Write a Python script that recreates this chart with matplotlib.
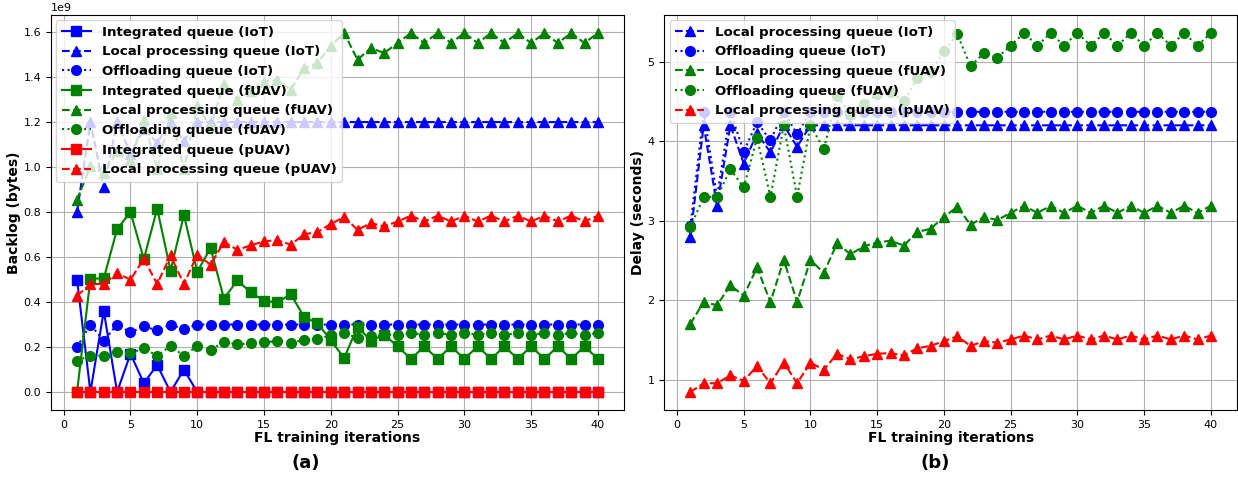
import matplotlib
matplotlib.use("Agg")
import matplotlib.pyplot as plt

iters = list(range(1, 41))

# ---- (a) backlog, in units of 1e9 bytes ----
int_iot = [0.5, 0.0, 0.36, 0.0, 0.17, 0.04, 0.12, 0.0, 0.1] + [0.0] * 31
loc_iot = [0.8, 1.2, 0.91, 1.2, 1.06, 1.17, 1.107, 1.2, 1.115] + [1.2] * 31
off_iot = [0.2, 0.3, 0.228, 0.3, 0.265, 0.292, 0.274, 0.3, 0.28] + [0.3] * 31
int_fuav = [0.0, 0.504, 0.505, 0.724, 0.8, 0.591, 0.815, 0.54, 0.787, 0.535,
            0.64, 0.415, 0.496, 0.443, 0.406, 0.398, 0.435, 0.334, 0.306, 0.23,
            0.151, 0.29, 0.228, 0.255] + [0.203, 0.147] * 8
loc_fuav = [0.855, 1.003, 0.973, 1.07, 1.03, 1.21, 0.99, 1.24, 0.99, 1.27,
            1.18, 1.37, 1.3, 1.34, 1.38, 1.388, 1.344, 1.44, 1.462, 1.54,
            1.596, 1.477, 1.529, 1.507] + [1.551, 1.596] * 8
off_fuav = [0.14, 0.161, 0.161, 0.176, 0.172, 0.195, 0.161, 0.205, 0.161, 0.205,
            0.188, 0.222, 0.212, 0.216, 0.222, 0.225, 0.218, 0.232, 0.236, 0.252,
            0.262, 0.24, 0.247, 0.255] + [0.255, 0.262] * 8
int_puav = [0.0] * 40
loc_puav = [0.428, 0.48, 0.48, 0.529, 0.499, 0.592, 0.48, 0.607, 0.48, 0.61,
            0.566, 0.667, 0.632, 0.652, 0.67, 0.675, 0.655, 0.701, 0.711, 0.747,
            0.778, 0.721, 0.751, 0.736] + [0.758, 0.784] * 8

# ---- (b) delay, seconds ----
d_loc_iot = [2.8, 4.2, 3.19, 4.2, 3.72, 4.1, 3.86, 4.2, 3.93] + [4.2] * 31
d_off_iot = [2.93, 4.37, 3.3, 4.37, 3.87, 4.24, 4.01, 4.37, 4.09] + [4.37] * 31
d_loc_fuav = [1.706, 1.98, 1.94, 2.19, 2.06, 2.415, 1.98, 2.51, 1.98, 2.51,
              2.345, 2.72, 2.58, 2.68, 2.73, 2.75, 2.69, 2.86, 2.9, 3.05,
              3.175, 2.95, 3.05, 3.01] + [3.1, 3.19] * 8
d_off_fuav = [2.92, 3.3, 3.3, 3.65, 3.42, 4.04, 3.3, 4.2, 3.3, 4.2,
              3.9, 4.57, 4.33, 4.47, 4.59, 4.62, 4.5, 4.8, 4.87, 5.13,
              5.345, 4.94, 5.11, 5.05] + [5.2, 5.36] * 8
d_loc_puav = [0.85, 0.96, 0.96, 1.06, 0.99, 1.175, 0.96, 1.22, 0.96, 1.22,
              1.13, 1.33, 1.26, 1.3, 1.33, 1.34, 1.31, 1.4, 1.43, 1.49,
              1.55, 1.43, 1.49, 1.47] + [1.51, 1.56] * 8

MS = 7
LEG = {'size': 9.6, 'weight': 'bold'}
fig = plt.figure(figsize=(12.38, 4.78), dpi=100)

# left panel
ax1 = fig.add_axes([0.0412, 0.1423, 0.4628, 0.8263])
ax1.plot(iters, [v * 1e9 for v in int_iot], 'b-s', ms=MS, label='Integrated queue (IoT)')
ax1.plot(iters, [v * 1e9 for v in loc_iot], 'b--^', ms=MS, label='Local processing queue (IoT)')
ax1.plot(iters, [v * 1e9 for v in off_iot], 'b:o', ms=MS, label='Offloading queue (IoT)')
ax1.plot(iters, [v * 1e9 for v in int_fuav], 'g-s', ms=MS, label='Integrated queue (fUAV)')
ax1.plot(iters, [v * 1e9 for v in loc_fuav], 'g--^', ms=MS, label='Local processing queue (fUAV)')
ax1.plot(iters, [v * 1e9 for v in off_fuav], 'g:o', ms=MS, label='Offloading queue (fUAV)')
ax1.plot(iters, [v * 1e9 for v in int_puav], 'r-s', ms=MS, label='Integrated queue (pUAV)')
ax1.plot(iters, [v * 1e9 for v in loc_puav], 'r--^', ms=MS, label='Local processing queue (pUAV)')
ax1.set_xlabel('FL training iterations', fontsize=10, fontweight='bold', labelpad=1)
ax1.set_ylabel('Backlog (bytes)', fontsize=10, fontweight='bold', labelpad=2)
ax1.tick_params(labelsize=8)
ax1.yaxis.get_offset_text().set_fontsize(8)
ax1.grid(True)
ax1.legend(loc='upper left', prop=LEG, borderaxespad=0.4, handlelength=2.2)

# right panel
ax2 = fig.add_axes([0.5366, 0.1423, 0.4625, 0.8263])
ax2.plot(iters, d_loc_iot, 'b--^', ms=MS, label='Local processing queue (IoT)')
ax2.plot(iters, d_off_iot, 'b:o', ms=MS, label='Offloading queue (IoT)')
ax2.plot(iters, d_loc_fuav, 'g--^', ms=MS, label='Local processing queue (fUAV)')
ax2.plot(iters, d_off_fuav, 'g:o', ms=MS, label='Offloading queue (fUAV)')
ax2.plot(iters, d_loc_puav, 'r--^', ms=MS, label='Local processing queue (pUAV)')
ax2.set_xlabel('FL training iterations', fontsize=10, fontweight='bold', labelpad=1)
ax2.set_ylabel('Delay (seconds)', fontsize=10, fontweight='bold', labelpad=2)
ax2.tick_params(labelsize=8)
ax2.grid(True)
ax2.legend(loc='upper left', prop=LEG, borderaxespad=0.4, handlelength=2.2)

fig.text(306 / 1238, 1 - 463 / 478, '(a)', ha='center', va='center',
         fontsize=13, fontweight='bold')
fig.text(935 / 1238, 1 - 463 / 478, '(b)', ha='center', va='center',
         fontsize=13, fontweight='bold')

fig.savefig('out.png', dpi=100)
